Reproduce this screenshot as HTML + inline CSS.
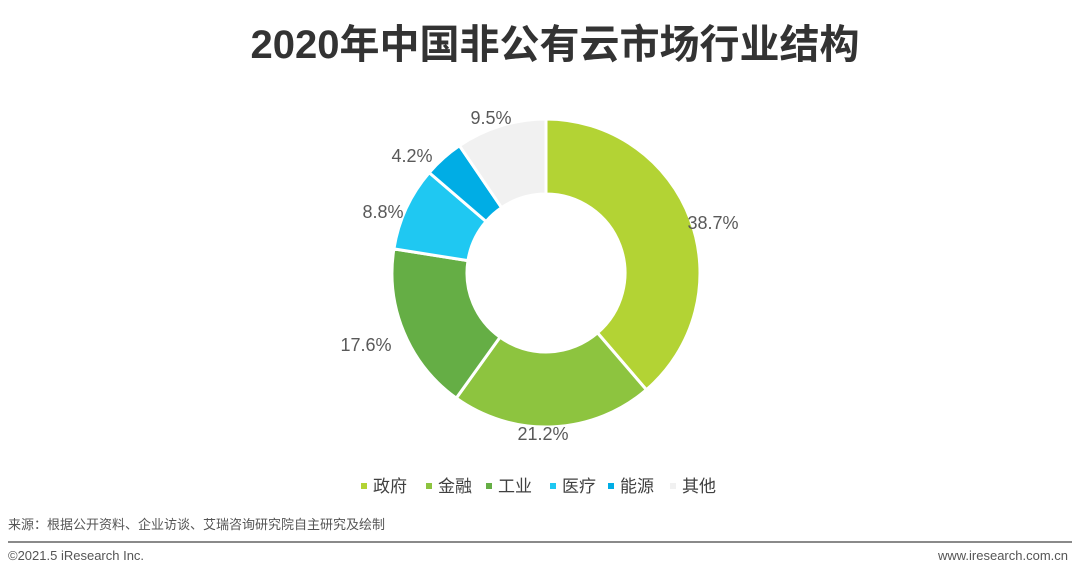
<!DOCTYPE html>
<html><head><meta charset="utf-8"><style>
body{margin:0;width:1080px;height:577px;background:#fff;position:relative;overflow:hidden;font-family:"Liberation Sans","Noto Sans CJK SC",sans-serif}
.t{position:absolute;left:0;width:1080px;top:12px;text-align:center;font-size:40px;font-weight:bold;color:#333;padding-left:30px;box-sizing:border-box}
.s{position:absolute;font-size:13px;color:#555}
</style></head><body>
<div class="t">2020年中国非公有云市场行业结构</div>
<svg id="g" width="1080" height="577" style="position:absolute;left:0;top:0"></svg>
<div class="s" style="left:8px;top:514px">来源：根据公开资料、企业访谈、艾瑞咨询研究院自主研究及绘制</div>
<div style="position:absolute;left:8px;top:541px;width:1064px;height:2px;background:#8a8a8a"></div>
<div class="s" style="left:8px;top:548px">©2021.5 iResearch Inc.</div>
<div class="s" style="right:12px;top:548px">www.iresearch.com.cn</div>
<script>
var d=[[38.7,"#b3d334","政府"],[21.2,"#8dc43f","金融"],[17.6,"#65ae45","工业"],[8.8,"#1fc8f2","医疗"],[4.2,"#00ade5","能源"],[9.5,"#f1f1f1","其他"]];
var cx=546,cy=273,R=154,r=79,a=0,h="",tot=100;
function p(rad,ang){return [cx+rad*Math.sin(ang),cy-rad*Math.cos(ang)]}
var labels=[[713,223],[543,434],[366,345],[383,212],[412,156],[491,118]];
d.forEach(function(v,i){var a2=a+v[0]/tot*2*Math.PI;var L=(a2-a)>Math.PI?1:0;
var o1=p(R,a),o2=p(R,a2),i1=p(r,a2),i2=p(r,a);
h+='<path d="M'+o1+'A'+R+','+R+' 0 '+L+' 1 '+o2+'L'+i1+'A'+r+','+r+' 0 '+L+' 0 '+i2+'Z" fill="'+v[1]+'" stroke="#fff" stroke-width="3"/>';
h+='<text x="'+labels[i][0]+'" y="'+(labels[i][1]+6)+'" font-size="18" fill="#595959" text-anchor="middle">'+v[0].toFixed(1)+'%</text>';
a=a2;});
var lx=[361,426,486,550,608,670];
d.forEach(function(v,i){h+='<rect x="'+lx[i]+'" y="483" width="6" height="6" fill="'+v[1]+'"/><text x="'+(lx[i]+12)+'" y="492" font-size="17" fill="#404040">'+v[2]+'</text>';});
document.getElementById("g").innerHTML=h;
</script>
</body></html>
